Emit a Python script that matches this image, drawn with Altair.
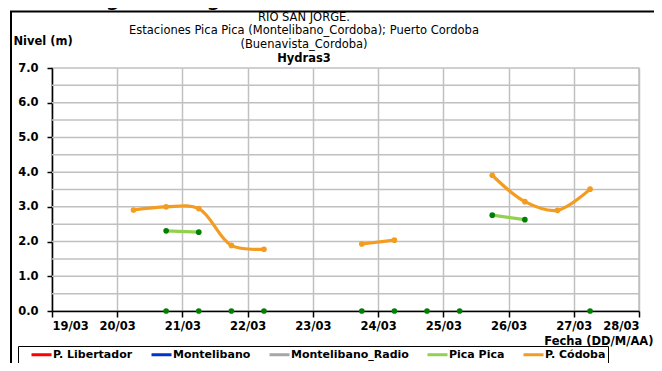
import altair as alt
import pandas as pd

# ---- data ----
series_names = ["P. Libertador", "Montelibano", "Montelibano_Radio", "Pica Pica", "P. Códoba"]
series_colors = ["#ff0000", "#0033cc", "#a6a6a6", "#92d050", "#f39c1f"]

cordoba_time = ["2014-03-20T06:00", "2014-03-20T18:00", "2014-03-21T06:00", "2014-03-21T18:00",
                "2014-03-22T06:00", "2014-03-23T18:00", "2014-03-24T06:00", "2014-03-25T18:00",
                "2014-03-26T06:00", "2014-03-26T18:00", "2014-03-27T06:00"]
cordoba_level = [2.91, 3.00, 2.95, 1.89, 1.78, 1.93, 2.04, 3.91, 3.15, 2.90, 3.51]
cordoba_segment = [1, 1, 1, 1, 1, 2, 2, 3, 3, 3, 3]

pica_time = ["2014-03-20T18:00", "2014-03-21T06:00", "2014-03-25T18:00", "2014-03-26T06:00"]
pica_level = [2.31, 2.27, 2.76, 2.63]
pica_segment = [1, 1, 2, 2]

radio_time = ["2014-03-20T18:00", "2014-03-21T06:00", "2014-03-21T18:00", "2014-03-22T06:00",
              "2014-03-23T18:00", "2014-03-24T06:00", "2014-03-24T18:00", "2014-03-25T06:00",
              "2014-03-27T06:00"]
radio_level = [0.0, 0.0, 0.0, 0.0, 0.0, 0.0, 0.0, 0.0, 0.0]
radio_segment = [1, 1, 2, 2, 3, 3, 4, 4, 5]

tick_days = [19, 20, 21, 22, 23, 24, 25, 26, 27, 28]
level_ticks = [0, 1, 2, 3, 4, 5, 6, 7]
grid_levels = [0.5, 1, 1.5, 2, 2.5, 3, 3.5, 4, 4.5, 5, 5.5, 6, 6.5]

title_lines = ["RIO SAN JORGE.", "Estaciones Pica Pica (Montelibano_Cordoba); Puerto Cordoba",
               "(Buenavista_Cordoba)"]
subtitle_line = "Hydras3"
top_text = "mantenga los siguientes dos días."

# ---- table ----
rows = []
for t, v, s in zip(cordoba_time, cordoba_level, cordoba_segment):
    rows.append({"time": t, "level": v, "series": "P. Códoba", "seg": f"c{s}"})
for t, v, s in zip(pica_time, pica_level, pica_segment):
    rows.append({"time": t, "level": v, "series": "Pica Pica", "seg": f"p{s}"})
for t, v, s in zip(radio_time, radio_level, radio_segment):
    rows.append({"time": t, "level": v, "series": "Montelibano_Radio", "seg": f"r{s}"})
df = pd.DataFrame(rows)
grid_df = pd.DataFrame({"level": grid_levels})

FONT = "DejaVu Sans"
dark_green = "#008000"
GRID = "#c0c0c0"

x_enc = alt.X(
    "time:T",
    scale=alt.Scale(domain=[alt.DateTime(year=2014, month=3, date=19),
                            alt.DateTime(year=2014, month=3, date=28)]),
    axis=alt.Axis(
        values=[alt.DateTime(year=2014, month=3, date=d) for d in tick_days],
        format="%d/%m", labelOverlap=False, grid=True,
        title="Fecha (DD/M/AA)",
        titleX=601, titleY=30, titleAlign="right", titleBaseline="middle", titleAnchor="end",
        tickSize=6, labelPadding=3,
    ),
)
y_scale = alt.Scale(domain=[0, 7], nice=False, zero=True)
y_axis = alt.Axis(
    values=level_ticks, format=".1f", labelOverlap=False, grid=False,
    title="Nivel (m)",
    titleAngle=0, titleX=-39, titleY=-27, titleAlign="left", titleBaseline="middle",
    tickSize=5, labelPadding=9,
)
y_enc = alt.Y("level:Q", scale=y_scale, axis=y_axis)

base = alt.Chart(df)

grid = alt.Chart(grid_df).mark_rule(color=GRID, strokeWidth=1.5).encode(y=y_enc)

lines = base.transform_filter(
    alt.FieldOneOfPredicate(field="series", oneOf=["P. Códoba", "Pica Pica"])
).mark_line(interpolate="catmull-rom", strokeWidth=3.2).encode(
    x=x_enc, y=y_enc,
    color=alt.Color(
        "series:N",
        scale=alt.Scale(domain=series_names, range=series_colors),
        legend=alt.Legend(
            orient="none", legendX=-34, legendY=278, direction="horizontal",
            title=" ", titleOrient="left", titlePadding=15,
            symbolType="M-2,0L2,0", symbolSize=100, symbolStrokeWidth=3,
            labelFont=FONT, labelFontWeight="bold", labelFontSize=11, labelColor="black",
            labelOffset=5, columnPadding=12, padding=2, strokeColor="black",
        ),
    ),
    detail="seg:N",
)

points = base.mark_point(filled=True, opacity=1, size=32).encode(
    x=x_enc, y=y_enc,
    color=alt.condition(alt.datum.series == "P. Códoba", alt.value("#f39c1f"), alt.value(dark_green)),
)

dummy = alt.Chart(pd.DataFrame({"k": [0]}))
frame = dummy.mark_rect(fill=None, stroke="black", strokeWidth=2).encode(
    x=alt.value(-41), x2=alt.value(700), y=alt.value(-56.5), y2=alt.value(400)
)
top = dummy.mark_text(text=top_text, font=FONT, fontSize=24.6, align="left",
                      baseline="alphabetic", color="black").encode(
    x=alt.value(-42), y=alt.value(-63)
)
title_text = dummy.mark_text(text=title_lines, font=FONT, fontSize=11.5, lineHeight=13.5,
                             align="center", baseline="top", color="black").encode(
    x=alt.value(252), y=alt.value(-56.5)
)
sub_text = dummy.mark_text(text=subtitle_line, font=FONT, fontSize=11.5, fontWeight="bold",
                           align="center", baseline="middle", color="black").encode(
    x=alt.value(252), y=alt.value(-9.5)
)

chart = alt.layer(frame, top, title_text, sub_text, grid, lines, points).properties(
    width=587, height=243,
    autosize=alt.AutoSizeParams(type="none"),
    padding={"left": 44, "top": 60, "right": 15, "bottom": 52},
).configure_view(
    stroke=GRID, strokeWidth=1.5
).configure_axis(
    labelFont=FONT, labelFontWeight="bold", labelFontSize=11.5, labelColor="black",
    titleFont=FONT, titleFontWeight="bold", titleFontSize=11.5, titleColor="black",
    domainColor="black", domainWidth=1.5, tickColor="black", tickWidth=1.5,
    gridColor=GRID, gridWidth=1.5,
)

chart.save("out.html", embed_options={"renderer": "svg", "actions": False})
